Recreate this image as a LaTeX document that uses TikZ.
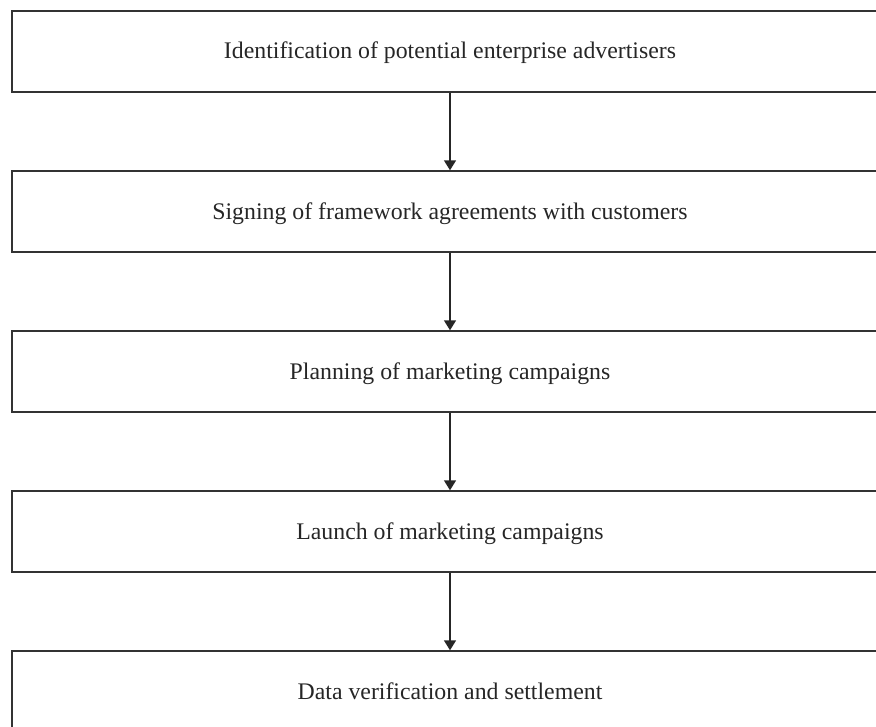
\documentclass[tikz,border=0pt]{standalone}
\usepackage{fontspec}
\setmainfont{Liberation Serif}
\usetikzlibrary{arrows.meta}
\usetikzlibrary{positioning}

\begin{document}
\begin{tikzpicture}[>={Triangle[width=12bp,length=10bp]},x=1bp,y=1bp,
      node distance=77.6bp,line width=1.4bp,
      stage/.style={draw=black!80,minimum width=876bp,minimum height=81bp,
        inner sep=0pt,text height=15bp,text depth=0pt,
        font=\fontsize{23.8bp}{28bp}\selectfont,text=black!85}]
    \useasboundingbox (0,0) rectangle (876,-727);
    \node[stage] (ident) at (450,-51.5) {Identification of potential enterprise advertisers};
    \node[stage,below=of ident] (sign) {Signing of framework agreements with customers};
    \node[stage,below=of sign] (plan) {Planning of marketing campaigns};
    \node[stage,below=of plan] (launch) {Launch of marketing campaigns};
    \node[stage,below=of launch] (verif) {Data verification and settlement};
    \foreach \a/\b in {ident/sign,sign/plan,plan/launch,launch/verif}
      \draw[->,black!85] (\a) -- (\b);
  \end{tikzpicture}
\end{document}
